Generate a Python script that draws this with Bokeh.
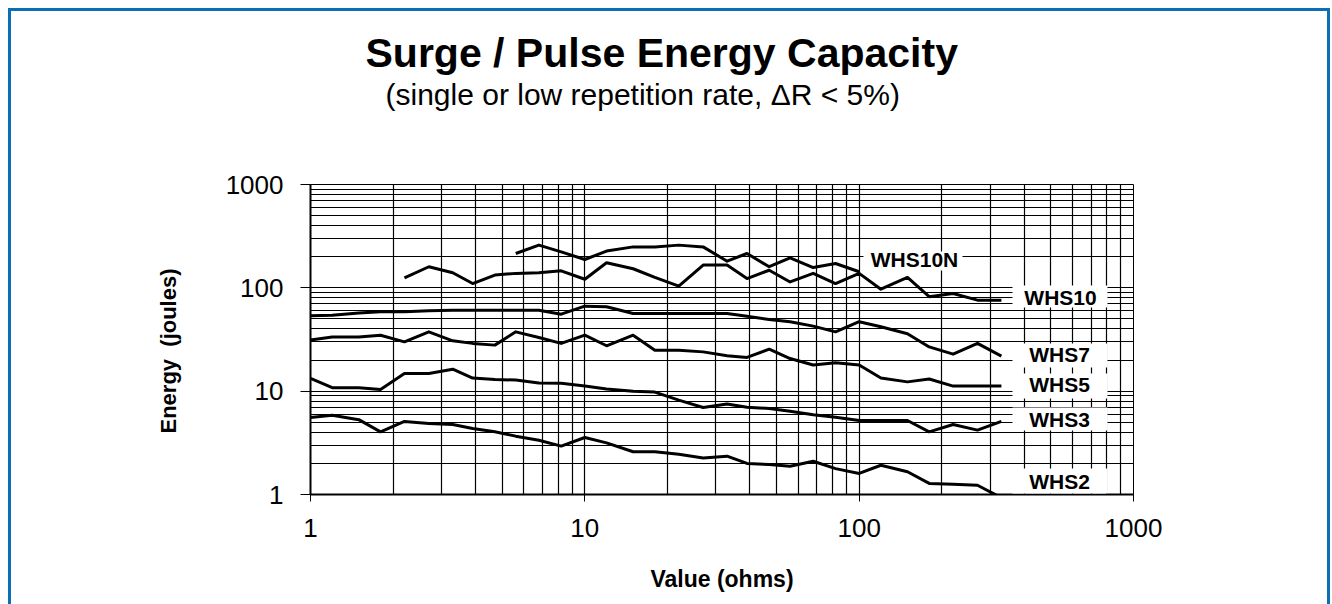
from bokeh.plotting import figure
from bokeh.models import FixedTicker, NumeralTickFormatter, Label, BoxAnnotation, Range1d, Title
from bokeh.embed import file_html
from bokeh.resources import INLINE

# resistance values (ohms), E12 series
ohms = [1, 1.2, 1.5, 1.8, 2.2, 2.7, 3.3, 3.9, 4.7, 5.6, 6.8, 8.2, 10, 12, 15, 18,
        22, 27, 33, 39, 47, 56, 68, 82, 100, 120, 150, 180, 220, 270, 330]

whs2 = [5.56, 5.86, 5.3, 4.04, 5.1, 4.87, 4.76, 4.35, 4.04, 3.67, 3.35, 2.94, 3.56, 3.16,
        2.59, 2.59, 2.45, 2.26, 2.35, 2.0, 1.95, 1.88, 2.1, 1.78, 1.6, 1.92, 1.66, 1.28,
        1.26, 1.23, 0.93]
whs3 = [13.3, 10.8, 10.8, 10.4, 14.8, 14.8, 16.3, 13.4, 13.0, 12.8, 12.0, 11.9, 11.2, 10.5,
        10.0, 9.8, 8.2, 6.95, 7.5, 7.0, 6.8, 6.4, 5.9, 5.6, 5.2, 5.2, 5.2, 4.04, 4.76, 4.2, 5.1]
whs5 = [31.2, 33.5, 33.5, 34.8, 30.0, 37.5, 30.7, 29.0, 27.9, 37.5, 33.1, 29.0, 34.8, 27.5,
        34.8, 24.9, 24.9, 24.0, 22.0, 21.2, 25.5, 20.7, 17.9, 18.8, 17.9, 13.4, 12.3, 13.1,
        11.2, 11.2, 11.2]
whs7 = [53.6, 54.4, 57, 58.6, 58.6, 59.9, 60.8, 60.8, 60.8, 60.8, 60.8, 55.6, 66.5, 65.5,
        56.5, 56.5, 56.5, 56.5, 56.5, 53, 49.5, 47, 42.6, 37.5, 47, 42, 36, 26.8, 22.8, 29, 21.8]
whs10_ohms = ohms[4:]
whs10 = [125, 160, 140, 110, 133, 138, 140, 146, 121, 175, 153, 126, 104, 166, 166, 123,
         148, 114, 138, 110, 138, 97, 126, 82, 88, 76, 76]
whs10n_ohms = ohms[9:25]
whs10n = [215, 259, 223, 188, 227, 249, 249, 259, 249, 181, 215, 160, 195, 157, 172, 143]

series_names = ["WHS10N", "WHS10", "WHS7", "WHS5", "WHS3", "WHS2"]
major_ticks = [1, 10, 100, 1000]

FONT = "Liberation Sans"
BLUE = "#0b6fb3"
W, H = 1322, 596

p = figure(width=W, height=H, x_axis_type="log", y_axis_type="log",
           x_range=Range1d(1, 1000), y_range=Range1d(1, 1000),
           output_backend="svg", toolbar_location=None,
           min_border_left=299, min_border_right=200,
           min_border_top=173, min_border_bottom=113)
p.styles = {"margin-left": "8px", "margin-top": "8px",
            "border-top": f"3px solid {BLUE}", "border-left": f"3px solid {BLUE}",
            "border-right": f"3px solid {BLUE}"}
p.background_fill_color = "white"
p.border_fill_color = "white"
p.outline_line_color = "black"
p.outline_line_width = 1

minor = [m * d for d in [1, 10, 100] for m in range(2, 10)]
for ax in (p.xaxis, p.yaxis):
    ax.ticker = FixedTicker(ticks=major_ticks, minor_ticks=minor)
    ax.formatter = NumeralTickFormatter(format="0")
    ax.axis_line_color = "black"
    ax.axis_line_width = 2
    ax.major_tick_line_color = "black"
    ax.major_tick_in = 0
    ax.minor_tick_in = 0
    ax.minor_tick_out = 0
    ax.major_label_text_font = FONT
    ax.major_label_text_font_size = "26px"
    ax.major_label_text_color = "black"
    ax.major_label_standoff = 17
    ax.axis_label_text_font = FONT
    ax.axis_label_text_font_style = "bold"
    ax.axis_label_text_color = "black"

p.xaxis.major_tick_out = 7
p.yaxis.major_tick_out = 10
p.xaxis.axis_label = "Value (ohms)"
p.xaxis.axis_label_text_font_size = "23px"
p.xaxis.axis_label_standoff = 26

# y-axis title placed as a side title so it can sit where the original has it
p.add_layout(Title(text="Energy\u00a0 (joules)", align="left", offset=61, standoff=84,
                   vertical_align="bottom", text_font=FONT, text_font_style="bold",
                   text_font_size="22px", text_color="black"), "left")

for g in (p.xgrid, p.ygrid):
    g.ticker = FixedTicker(ticks=major_ticks, minor_ticks=minor)
    g.grid_line_color = "black"
    g.grid_line_width = 1.2
    g.grid_line_alpha = 1
    g.minor_grid_line_color = "black"
    g.minor_grid_line_width = 1.2
    g.minor_grid_line_alpha = 1

lines = [(whs10n_ohms, whs10n), (whs10_ohms, whs10), (ohms, whs7), (ohms, whs5),
         (ohms, whs3), (ohms, whs2)]
for xs, ys in lines:
    p.line(xs, ys, line_color="black", line_width=3, line_join="round")

# label boxes (frame-relative screen units: left, right, bottom, top)
boxes = [(553, 652, 224, 243), (702, 797, 187, 209), (702, 797, 127, 151),
         (702, 797, 96, 121), (702, 797, 64, 87), (702, 797, 1, 26)]
label_pos = [(604, 235), (750, 197), (749, 140), (749, 110), (749, 75), (749, 13)]
for (l, r, b, t), (lx, ly), name in zip(boxes, label_pos, series_names):
    p.add_layout(BoxAnnotation(left=l, right=r, bottom=b, top=t,
                               left_units="screen", right_units="screen",
                               bottom_units="screen", top_units="screen",
                               fill_color="white", fill_alpha=1, line_color=None))
    p.add_layout(Label(x=lx, y=ly, x_units="screen", y_units="screen", text=name,
                       text_align="center", text_baseline="alphabetic",
                       text_font=FONT, text_font_style="bold", text_font_size="21px",
                       text_color="black"))

# titles stacked above the frame (first added sits nearest the frame)
p.add_layout(Title(text=" ", text_font_size="1px", standoff=70.5), "above")
p.add_layout(Title(text="(single or low repetition rate, \u0394R < 5%)", align="left",
                   offset=75, standoff=0, text_font=FONT, text_font_style="normal",
                   text_font_size="30px", text_color="black"), "above")
p.add_layout(Title(text="Surge / Pulse Energy Capacity", align="left",
                   offset=55, standoff=0, text_font=FONT, text_font_style="bold",
                   text_font_size="41px", text_color="black"), "above")

open("out.html", "w").write(file_html(p, INLINE))
